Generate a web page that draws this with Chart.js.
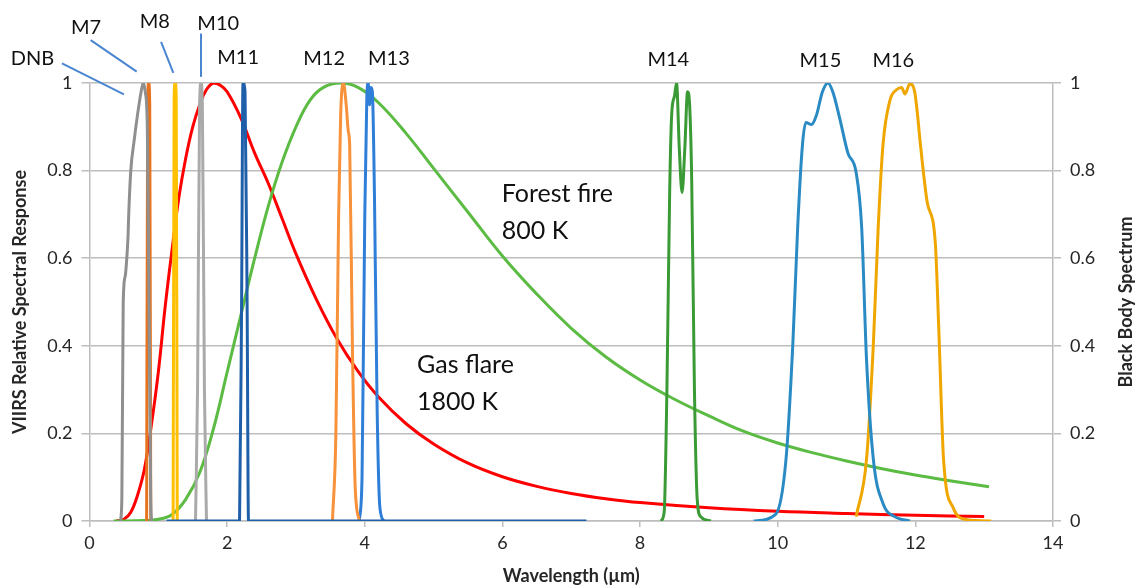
<!doctype html>
<html lang="en">
<head>
  <meta charset="utf-8">
  <title>VIIRS spectral response and black body spectra</title>
  <script src="https://cdn.jsdelivr.net/npm/chart.js"></script>
  <style>
    html, body { margin: 0; padding: 0; background: #fff; }
    #chart { display: block; }
  </style>
</head>
<body>
  <canvas id="chart" width="1136" height="587"></canvas>

  <script>
    // wavelength in µm
    var dnbX = [0.45, 0.47, 0.49, 0.52, 0.55, 0.56, 0.57, 0.6, 0.65, 0.7, 0.75, 0.78, 0.81, 0.84, 0.87, 0.89, 0.9];
    var dnbY = [0, 0.05, 0.5, 0.56, 0.62, 0.65, 0.7, 0.8, 0.87, 0.93, 0.98, 1.0, 0.98, 0.9, 0.4, 0.05, 0];

    var m7X = [0.83, 0.845, 0.86, 0.875, 0.89];
    var m7Y = [0, 0.95, 1, 0.95, 0];

    var m8X = [1.215, 1.23, 1.245, 1.26, 1.275];
    var m8Y = [0, 0.97, 1, 0.97, 0];

    var m10X = [1.54, 1.57, 1.6, 1.62, 1.64, 1.67, 1.7];
    var m10Y = [0, 0.3, 0.95, 1, 0.95, 0.3, 0];

    var m11X = [1.12, 2.18, 2.21, 2.23, 2.26, 2.29, 2.31, 2.35, 7.22];
    var m11Y = [0, 0, 0.5, 1, 0.98, 0.5, 0, 0, 0];

    var m12X = [3.53, 3.58, 3.62, 3.65, 3.69, 3.73, 3.76, 3.78, 3.82, 3.86, 3.92];
    var m12Y = [0, 0.2, 0.7, 0.93, 1.0, 0.95, 0.89, 0.86, 0.4, 0.08, 0];

    var m13X = [3.92, 3.96, 4.0, 4.03, 4.05, 4.07, 4.09, 4.11, 4.14, 4.18, 4.22, 4.28];
    var m13Y = [0, 0.1, 0.7, 0.97, 1.0, 0.95, 0.99, 0.98, 0.75, 0.25, 0.03, 0];

    var m14X = [8.3, 8.35, 8.39, 8.43, 8.46, 8.5, 8.53, 8.57, 8.61, 8.65, 8.69, 8.72, 8.75, 8.79, 8.83, 8.88, 9.03];
    var m14Y = [0, 0.02, 0.3, 0.75, 0.93, 0.97, 1.0, 0.85, 0.75, 0.85, 0.98, 0.95, 0.78, 0.3, 0.05, 0.01, 0];

    var m15X = [9.65, 9.97, 10.12, 10.22, 10.29, 10.36, 10.41, 10.49, 10.56, 10.65, 10.73, 10.8, 10.9, 11.02, 11.14, 11.22, 11.29, 11.39, 11.53, 11.7, 11.92];
    var m15Y = [0, 0.015, 0.14, 0.405, 0.67, 0.86, 0.91, 0.905, 0.925, 0.98, 1.0, 0.98, 0.92, 0.84, 0.795, 0.67, 0.37, 0.14, 0.04, 0.01, 0];

    var m16X = [11.14, 11.29, 11.39, 11.46, 11.53, 11.63, 11.73, 11.8, 11.85, 11.92, 11.99, 12.03, 12.07, 12.17, 12.29, 12.34, 12.41, 12.55, 12.75, 13.1];
    var m16Y = [0.01, 0.14, 0.405, 0.67, 0.86, 0.96, 0.985, 0.99, 0.975, 0.998, 0.98, 0.93, 0.865, 0.73, 0.635, 0.44, 0.14, 0.03, 0.003, 0];

    var flareX = [0.39, 0.5, 0.6, 0.7, 0.8, 0.9, 1.0, 1.1, 1.2, 1.3, 1.4, 1.5, 1.6, 1.7, 1.8, 1.9, 2.0, 2.2, 2.4, 2.6, 2.8, 3.0, 3.3, 3.6, 3.9, 4.2, 4.6, 5.0, 5.5, 6.0, 6.5, 7.0, 7.5, 8.0, 9.0, 10.0, 11.0, 12.0, 13.0];
    var flareY = [0, 0.004, 0.02, 0.06, 0.12, 0.22, 0.34, 0.49, 0.62, 0.74, 0.83, 0.9, 0.95, 0.985, 1.0, 0.995, 0.98, 0.92, 0.84, 0.77, 0.69, 0.61, 0.505, 0.415, 0.342, 0.283, 0.222, 0.176, 0.132, 0.101, 0.079, 0.063, 0.051, 0.042, 0.03, 0.022, 0.017, 0.013, 0.01];

    var fireX = [0.35, 0.8, 1.0, 1.2, 1.4, 1.6, 1.8, 2.0, 2.2, 2.4, 2.6, 2.8, 3.0, 3.2, 3.4, 3.65, 3.9, 4.2, 4.6, 5.0, 5.5, 6.0, 6.5, 7.0, 7.5, 8.0, 8.5, 9.0, 9.5, 10.0, 10.5, 11.0, 11.5, 12.0, 12.5, 13.07];
    var fireY = [0, 0.001, 0.004, 0.015, 0.05, 0.11, 0.21, 0.34, 0.47, 0.6, 0.72, 0.82, 0.9, 0.96, 0.99, 1.0, 0.99, 0.955, 0.885, 0.805, 0.705, 0.605, 0.518, 0.44, 0.375, 0.322, 0.278, 0.24, 0.205, 0.178, 0.156, 0.137, 0.12, 0.105, 0.092, 0.078];

    var yTicks = [0, 0.2, 0.4, 0.6, 0.8, 1];
    var xTicks = [0, 2, 4, 6, 8, 10, 12, 14];

    // band labels above the plot, placed in axis units
    var bandLabels = [
      { text: 'DNB', x: -0.83, y: 1.041 },
      { text: 'M7',  x: -0.05, y: 1.113 },
      { text: 'M8',  x: 0.95,  y: 1.126 },
      { text: 'M10', x: 1.87,  y: 1.122 },
      { text: 'M11', x: 2.16,  y: 1.043 },
      { text: 'M12', x: 3.41,  y: 1.041 },
      { text: 'M13', x: 4.35,  y: 1.041 },
      { text: 'M14', x: 8.41,  y: 1.038 },
      { text: 'M15', x: 10.62, y: 1.036 },
      { text: 'M16', x: 11.68, y: 1.036 }
    ];
    var leaders = [
      [-0.40, 1.045, 0.50, 0.974],
      [0.017, 1.098, 0.686, 1.026],
      [1.04, 1.094, 1.218, 1.023],
      [1.62, 1.113, 1.62, 1.014]
    ];
    var curveNotes = [
      { lines: ['Forest fire', '800 K'], x: 5.99, y: 0.729 },
      { lines: ['Gas flare', '1800 K'], x: 4.76, y: 0.339 }
    ];

    function pts(xs, ys) {
      return xs.map(function(x, i) { return { x: x, y: ys[i] }; });
    }
    function series(label, xs, ys, color, axis) {
      var ds = {
        label: label,
        data: pts(xs, ys),
        borderColor: color,
        backgroundColor: color,
        yAxisID: axis || 'y',
        showLine: true,
        fill: false
      };
      // the black body curves are smooth, bezier looks closer than monotone
      if (axis === 'y2') {
        ds.cubicInterpolationMode = 'default';
        ds.tension = 0.4;
      }
      return ds;
    }

    var FONT = 'Lato, "Open Sans", sans-serif';
    var GRID = '#BDBDBD';

    var annotate = {
      id: 'annotate',
      afterDraw: function(chart) {
        var c = chart.ctx, xs = chart.scales.x, ys = chart.scales.y;
        c.save();
        c.strokeStyle = '#4A86D0';
        c.lineWidth = 2;
        leaders.forEach(function(l) {
          c.beginPath();
          c.moveTo(xs.getPixelForValue(l[0]), ys.getPixelForValue(l[1]));
          c.lineTo(xs.getPixelForValue(l[2]), ys.getPixelForValue(l[3]));
          c.stroke();
        });
        c.fillStyle = '#111';
        c.font = '20px ' + FONT;
        c.textAlign = 'center';
        c.textBaseline = 'alphabetic';
        bandLabels.forEach(function(b) {
          c.fillText(b.text, xs.getPixelForValue(b.x), ys.getPixelForValue(b.y));
        });
        c.font = '25px ' + FONT;
        c.textAlign = 'left';
        curveNotes.forEach(function(n) {
          var px = xs.getPixelForValue(n.x), py = ys.getPixelForValue(n.y);
          n.lines.forEach(function(t, i) { c.fillText(t, px, py + i * 37); });
        });
        // right axis title, reads bottom to top like the left one
        var area = chart.chartArea;
        c.translate(1126, (area.top + area.bottom) / 2);
        c.rotate(-Math.PI / 2);
        c.font = 'bold 18px ' + FONT;
        c.textAlign = 'center';
        c.textBaseline = 'middle';
        c.fillStyle = '#262626';
        c.fillText('Black Body Spectrum', 0, 0);
        c.restore();
      }
    };

    var ctx = document.getElementById('chart').getContext('2d');
    var chart = new Chart(ctx, {
      type: 'scatter',
      data: {
        datasets: [
          series('M11', m11X, m11Y, '#1F5FAA'),
          series('DNB', dnbX, dnbY, '#8F8F8F'),
          series('M7', m7X, m7Y, '#E8731E'),
          series('M8', m8X, m8Y, '#FFC000'),
          series('M10', m10X, m10Y, '#AAAAAA'),
          series('M12', m12X, m12Y, '#F7923A'),
          series('M13', m13X, m13Y, '#2F7ED8'),
          series('M14', m14X, m14Y, '#3A9A35'),
          series('M15', m15X, m15Y, '#2A8AC4'),
          series('M16', m16X, m16Y, '#EFA700'),
          series('Forest fire 800 K', fireX, fireY, '#5BBB43', 'y2'),
          series('Gas flare 1800 K', flareX, flareY, '#FF0000', 'y2')
        ]
      },
      options: {
        responsive: false,
        animation: false,
        layout: { padding: { top: 83, left: 0, right: 0, bottom: 0 } },
        elements: {
          point: { radius: 0, hoverRadius: 0 },
          line: { borderWidth: 3, cubicInterpolationMode: 'monotone' }
        },
        plugins: {
          legend: { display: false },
          tooltip: { enabled: false }
        },
        scales: {
          x: {
            type: 'linear', min: 0, max: 14,
            afterBuildTicks: function(s) { s.ticks = xTicks.map(function(v) { return { value: v }; }); },
            afterFit: function(s) { s.height = 66; },
            grid: { drawOnChartArea: false, color: GRID, lineWidth: 1.5, tickLength: 6 },
            border: { color: GRID, width: 1.5 },
            ticks: { color: '#262626', font: { family: FONT, size: 18 }, padding: 5 },
            title: {
              display: true, text: 'Wavelength (µm)', color: '#262626',
              font: { family: FONT, size: 18, weight: 'bold' },
              padding: { top: 0, bottom: 0 }
            }
          },
          y: {
            position: 'left', min: 0, max: 1,
            afterBuildTicks: function(s) { s.ticks = yTicks.map(function(v) { return { value: v }; }); },
            afterFit: function(s) { s.width = 89.5; },
            grid: { color: GRID, lineWidth: 1.5, tickLength: 8 },
            border: { color: GRID, width: 1.5 },
            ticks: { color: '#262626', font: { family: FONT, size: 18 }, padding: 9,
              callback: function(v) { return String(+v.toFixed(1)); } },
            title: {
              display: true, text: 'VIIRS Relative Spectral Response', color: '#262626',
              font: { family: FONT, size: 18, weight: 'bold' },
              padding: { top: 9, bottom: 0 }
            }
          },
          y2: {
            position: 'right', min: 0, max: 1,
            afterBuildTicks: function(s) { s.ticks = yTicks.map(function(v) { return { value: v }; }); },
            afterFit: function(s) { s.width = 83; },
            grid: { drawOnChartArea: false, color: GRID, lineWidth: 1.5, tickLength: 8 },
            border: { color: GRID, width: 1.5 },
            ticks: { color: '#262626', font: { family: FONT, size: 18 }, padding: 9,
              callback: function(v) { return String(+v.toFixed(1)); } }
          }
        }
      },
      plugins: [annotate]
    });
  </script>
</body>
</html>
